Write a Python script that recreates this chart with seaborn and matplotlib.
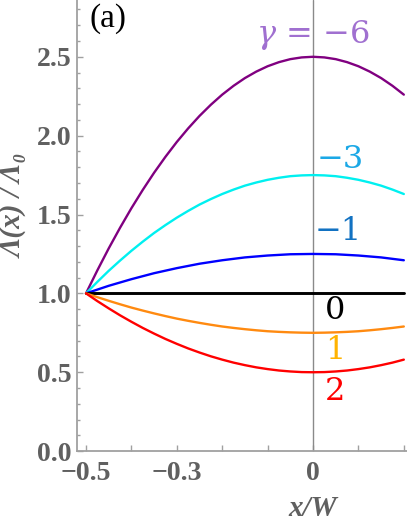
import matplotlib
matplotlib.use("Agg")
import matplotlib.pyplot as plt
import pandas as pd
import seaborn as sns
from matplotlib.ticker import FixedLocator, MultipleLocator

# x/W positions
X_POS = [-0.5, -0.475, -0.45, -0.425, -0.4, -0.375, -0.35, -0.325, -0.3, -0.275,
         -0.25, -0.225, -0.2, -0.175, -0.15, -0.125, -0.1, -0.075, -0.05, -0.025,
         0.0, 0.025, 0.05, 0.075, 0.1, 0.125, 0.15, 0.175, 0.2]

# Lambda(x)/Lambda_0 for each gamma
RATIO_G_M6 = [1.000, 1.146, 1.285, 1.416, 1.540, 1.656, 1.765, 1.866, 1.960, 2.046,
              2.125, 2.196, 2.260, 2.316, 2.365, 2.406, 2.440, 2.466, 2.485, 2.496,
              2.500, 2.496, 2.485, 2.466, 2.440, 2.406, 2.365, 2.316, 2.260]
RATIO_G_M3 = [1.000, 1.073, 1.143, 1.208, 1.270, 1.328, 1.383, 1.433, 1.480, 1.523,
              1.563, 1.598, 1.630, 1.658, 1.683, 1.703, 1.720, 1.733, 1.743, 1.748,
              1.750, 1.748, 1.743, 1.733, 1.720, 1.703, 1.683, 1.658, 1.630]
RATIO_G_M1 = [1.000, 1.024, 1.048, 1.069, 1.090, 1.109, 1.128, 1.144, 1.160, 1.174,
              1.188, 1.199, 1.210, 1.219, 1.228, 1.234, 1.240, 1.244, 1.248, 1.249,
              1.250, 1.249, 1.248, 1.244, 1.240, 1.234, 1.228, 1.219, 1.210]
RATIO_G_0 = [1.000, 1.000, 1.000, 1.000, 1.000, 1.000, 1.000, 1.000, 1.000, 1.000,
             1.000, 1.000, 1.000, 1.000, 1.000, 1.000, 1.000, 1.000, 1.000, 1.000,
             1.000, 1.000, 1.000, 1.000, 1.000, 1.000, 1.000, 1.000, 1.000]
RATIO_G_1 = [1.000, 0.976, 0.953, 0.931, 0.910, 0.891, 0.873, 0.856, 0.840, 0.826,
             0.813, 0.801, 0.790, 0.781, 0.773, 0.766, 0.760, 0.756, 0.753, 0.751,
             0.750, 0.751, 0.753, 0.756, 0.760, 0.766, 0.773, 0.781, 0.790]
RATIO_G_2 = [1.000, 0.951, 0.905, 0.861, 0.820, 0.781, 0.745, 0.711, 0.680, 0.651,
             0.625, 0.601, 0.580, 0.561, 0.545, 0.531, 0.520, 0.511, 0.505, 0.501,
             0.500, 0.501, 0.505, 0.511, 0.520, 0.531, 0.545, 0.561, 0.580]

GAMMAS = [-6, -3, -1, 0, 1, 2]
GAMMA_LABELS = [r"$\gamma$ = −6", "−3", "−1", "0", "1", "2"]
X_TICKS = [-0.5, -0.3, 0.0]
X_TICK_LABELS = ["−0.5", "−0.3", "0"]

LINE_COLORS = {-6: "#800080", -3: "#00f0f0", -1: "#0000ff", 0: "#000000", 1: "#ff8a10", 2: "#ff0000"}
TEXT_COLORS = {-6: "#a070d0", -3: "#1ba8e6", -1: "#1272c2", 0: "#000000", 1: "#ffb300", 2: "#ff0000"}

series = [RATIO_G_M6, RATIO_G_M3, RATIO_G_M1, RATIO_G_0, RATIO_G_1, RATIO_G_2]
df = pd.concat(
    [pd.DataFrame({"x": X_POS, "ratio": vals, "gamma": g}) for g, vals in zip(GAMMAS, series)],
    ignore_index=True,
)

sns.set_theme(style="ticks")
plt.rcParams["font.family"] = ["Liberation Serif", "DejaVu Serif"]
plt.rcParams["mathtext.fontset"] = "dejavuserif"

fig = plt.figure(figsize=(4.07, 5.27), dpi=100)
ax = fig.add_axes([0.189, 0.144, 0.811, 0.856])

ax.axvline(0, color="#8a8a8a", lw=1.0, zorder=1)
sns.lineplot(data=df, x="x", y="ratio", hue="gamma", palette=LINE_COLORS,
             linewidth=1.7, legend=False, ax=ax, zorder=3)
for line in ax.get_lines():
    if line.get_color() == "#000000":
        line.set_linewidth(2.1)

ax.set_xlim(-0.52, 0.207)
ax.set_ylim(0, 2.86)

for side in ["top", "right"]:
    ax.spines[side].set_visible(False)
for side in ["left", "bottom"]:
    ax.spines[side].set_color("#a0a0a0")
    ax.spines[side].set_linewidth(1.3)

ax.xaxis.set_major_locator(FixedLocator(X_TICKS))
ax.xaxis.set_minor_locator(FixedLocator([-0.4, -0.2, -0.1, 0.1, 0.2]))
ax.set_xticklabels(X_TICK_LABELS)
ax.yaxis.set_major_locator(MultipleLocator(0.5))
ax.yaxis.set_minor_locator(MultipleLocator(0.1))
ax.yaxis.set_major_formatter(matplotlib.ticker.FormatStrFormatter("%.1f"))

ax.tick_params(axis="both", which="both", direction="in", color="#a0a0a0", width=1.0)
ax.tick_params(axis="x", which="both", length=4.5, pad=7)
ax.tick_params(axis="y", which="major", length=4, pad=4)
ax.tick_params(axis="y", which="minor", length=2.5)
for lab in ax.get_xticklabels() + ax.get_yticklabels():
    lab.set_fontsize(20)
    lab.set_fontweight("bold")
    lab.set_color("#606060")

ax.set_xlabel("x/W", fontsize=21, fontweight="bold", style="italic", color="#606060")
ax.xaxis.set_label_coords(0.715, -0.098)
ax.set_ylabel("Λ(x) / Λ₀", fontsize=21, fontweight="bold", style="italic", color="#606060")
ax.yaxis.set_label_coords(-0.15, 0.545)

# curve labels
label_pos = {-6: (0.0, 2.64), -3: (0.009, 1.85), -1: (0.003, 1.39), 0: (0.027, 0.89), 1: (0.027, 0.64), 2: (0.027, 0.38)}
for g, txt in zip(GAMMAS, GAMMA_LABELS):
    px, py = label_pos[g]
    ax.text(px, py, txt, color=TEXT_COLORS[g], fontsize=23, family="DejaVu Serif",
            ha="center" if g == -6 else "left", va="center")

ax.text(-0.452, 2.69, "(a)", fontsize=24, color="black", ha="center", va="baseline")

fig.savefig("out.png", dpi=100)
